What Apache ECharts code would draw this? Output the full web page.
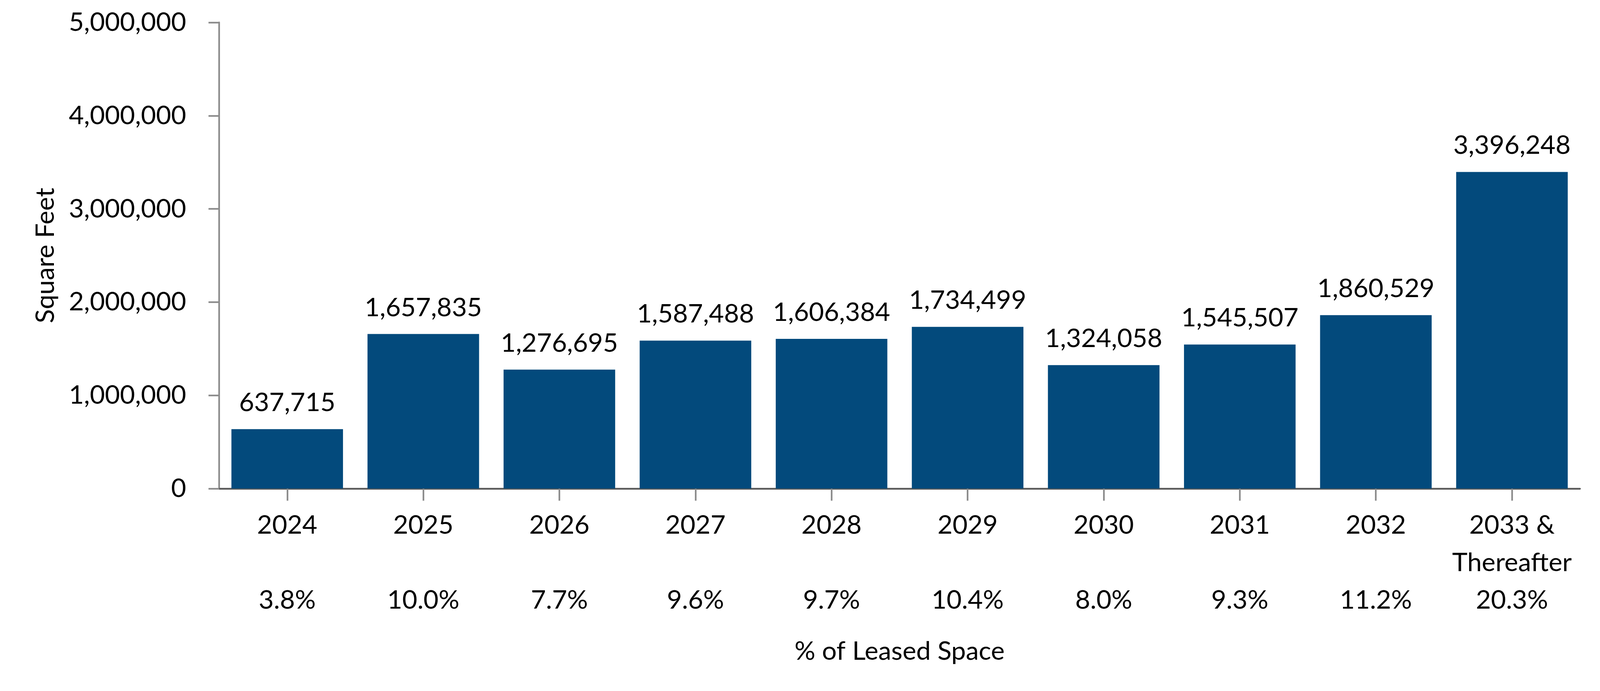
<!DOCTYPE html>
<html>
<head>
<meta charset="utf-8">
<script src="https://cdn.jsdelivr.net/npm/echarts@6/dist/echarts.min.js"></script>
<style>
  html, body { margin: 0; padding: 0; background: #fff; overflow: hidden; }
  #chart { width: 100vw; height: 100vh; }
</style>
</head>
<body>
<div id="chart"></div>
<script>
// lease expirations by year
const years = ['2024', '2025', '2026', '2027', '2028', '2029', '2030', '2031', '2032', '2033 &\nThereafter'];
const squareFeet = [637715, 1657835, 1276695, 1587488, 1606384, 1734499, 1324058, 1545507, 1860529, 3396248];
const pctLeased = ['3.8%', '10.0%', '7.7%', '9.6%', '9.7%', '10.4%', '8.0%', '9.3%', '11.2%', '20.3%'];
const yTicks = [0, 1000000, 2000000, 3000000, 4000000, 5000000];

const FONT = 'Lato';
const fmt = v => Number(v).toLocaleString('en-US');

// layout was measured on a 4800 x 1770 frame, scale it to whatever the viewport is
const W = window.innerWidth, H = window.innerHeight;
const sx = W / 4800, sy = H / 1770, s = Math.min(sx, sy);
const FS = 78 * s;

// year on top, percentage on the third line (empty middle line unless the year wraps)
const categories = years.map((y, i) => {
  const lines = y.split('\n');
  if (lines.length < 2) lines.push('');
  return lines.concat(pctLeased[i]).join('\n');
});

const chart = echarts.init(document.getElementById('chart'));

const option = {
  animation: false,
  backgroundColor: '#fff',
  grid: { left: 657.5 * sx, top: 57.5 * sy, width: 4082.5 * sx, height: 1194 * sy, containLabel: false },
  xAxis: {
    type: 'category',
    data: categories,
    name: '% of Leased Space',
    nameLocation: 'middle',
    nameGap: 384 * sy,
    nameTextStyle: { fontFamily: FONT, fontSize: FS, color: '#000' },
    axisLine: { show: true, lineStyle: { color: '#595959', width: 5 * s } },
    axisTick: { show: true, alignWithLabel: true, length: 31 * sy, lineStyle: { color: '#8c8c8c', width: 5 * s } },
    axisLabel: {
      margin: 46 * sy,
      interval: 0,
      fontFamily: FONT,
      fontSize: FS,
      lineHeight: 96 * sy,
      color: '#000'
    }
  },
  yAxis: {
    type: 'value',
    min: yTicks[0],
    max: yTicks[yTicks.length - 1],
    interval: yTicks[1] - yTicks[0],
    name: 'Square Feet',
    nameLocation: 'middle',
    nameGap: 482 * sx,
    nameTextStyle: { fontFamily: FONT, fontSize: FS, color: '#000' },
    splitLine: { show: false },
    axisLine: { show: true, lineStyle: { color: '#8c8c8c', width: 5 * s } },
    axisTick: { show: true, length: 32 * sx, lineStyle: { color: '#8c8c8c', width: 5 * s } },
    axisLabel: {
      margin: 99 * sx,
      fontFamily: FONT,
      fontSize: FS,
      color: '#000',
      formatter: fmt
    }
  },
  series: [{
    type: 'bar',
    data: squareFeet,
    barCategoryGap: '18%',
    itemStyle: { color: '#034A7C' },
    label: {
      show: true,
      position: 'top',
      distance: 34 * sy,
      fontFamily: FONT,
      fontSize: FS,
      color: '#000',
      formatter: p => fmt(p.value)
    }
  }]
};

chart.setOption(option);
window.addEventListener('resize', () => chart.resize());
</script>
</body>
</html>
